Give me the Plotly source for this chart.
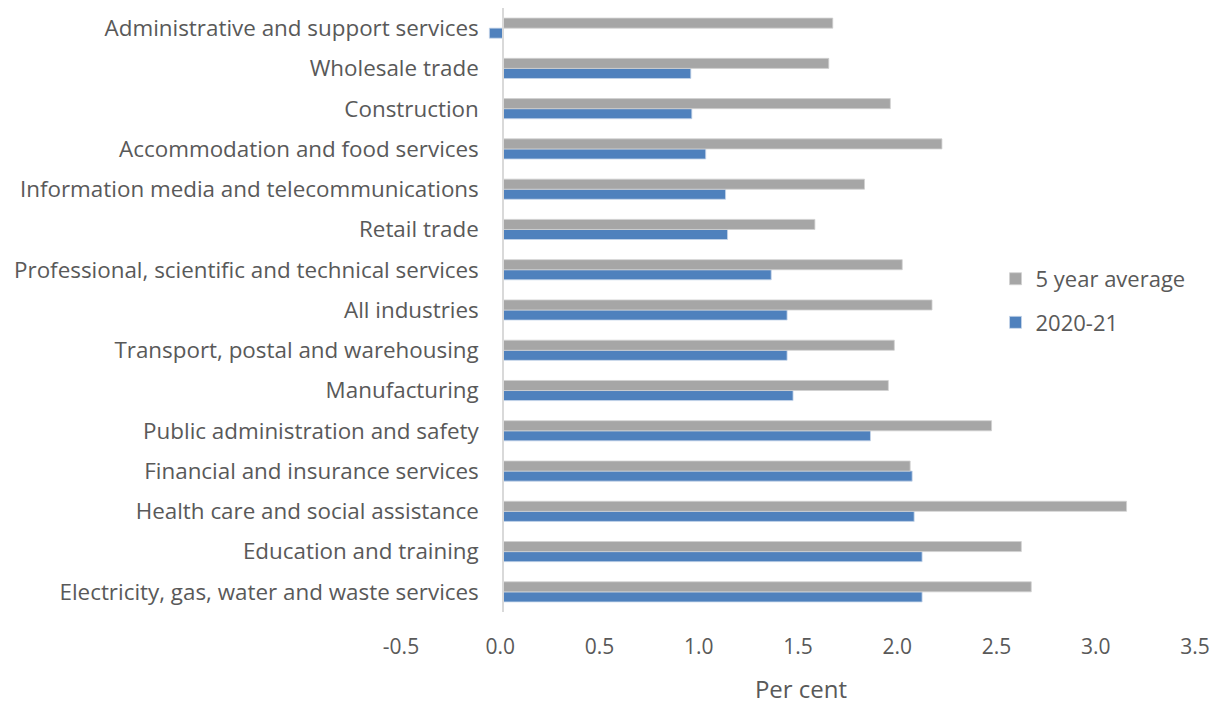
import plotly.graph_objects as go

categories = [
    "Administrative and support services",
    "Wholesale trade",
    "Construction",
    "Accommodation and food services",
    "Information media and telecommunications",
    "Retail trade",
    "Professional, scientific and technical services",
    "All industries",
    "Transport, postal and warehousing",
    "Manufacturing",
    "Public administration and safety",
    "Financial and insurance services",
    "Health care and social assistance",
    "Education and training",
    "Electricity, gas, water and waste services",
]
five_year_avg = [1.66, 1.64, 1.95, 2.21, 1.82, 1.57, 2.01, 2.16, 1.97, 1.94, 2.46, 2.05, 3.14, 2.61, 2.66]
y2020_21 = [-0.07, 0.945, 0.95, 1.02, 1.12, 1.13, 1.35, 1.43, 1.43, 1.46, 1.85, 2.06, 2.07, 2.11, 2.11]
x_ticks = [-0.5, 0.0, 0.5, 1.0, 1.5, 2.0, 2.5, 3.0, 3.5]

cats_rev = categories[::-1]
font_fam = "'Open Sans', 'Noto Sans', sans-serif"
txt = "#595959"

fig = go.Figure()
fig.add_trace(go.Bar(
    y=cats_rev, x=y2020_21[::-1], orientation="h", name="2020-21",
    marker=dict(color="#4f81bd", line=dict(color="#c6d6ea", width=0.8)),
    legendrank=2, legendgroup="g0",
))
fig.add_trace(go.Bar(
    y=cats_rev, x=five_year_avg[::-1], orientation="h", name="5 year average",
    marker=dict(color="#a6a6a6", line=dict(color="#d0d0d0", width=0.8)),
    legendrank=1, legendgroup="g1",
))

fig.update_layout(
    width=1202, height=697,
    margin=dict(l=396, r=12, t=0, b=93, autoexpand=False),
    paper_bgcolor="white", plot_bgcolor="white",
    barmode="group", bargap=0.5, bargroupgap=0.0,
    font=dict(family=font_fam, size=22, color=txt),
    legend=dict(x=0.745, y=0.515, xanchor="left", yanchor="middle",
                font=dict(size=22, color=txt), tracegroupgap=12,
                bgcolor="rgba(0,0,0,0)"),
    xaxis=dict(range=[-0.5, 3.5], tickvals=x_ticks,
               ticktext=[f"{v:.1f}" for v in x_ticks],
               showgrid=False, zeroline=False, showline=False,
               ticks="", ticklabelstandoff=20, ticklabeloverflow="allow",
               ticklabelshift=-3, automargin=False,
               tickfont=dict(size=21, color=txt),
               title=dict(text="Per cent", font=dict(size=24, color=txt), standoff=22)),
    yaxis=dict(categoryorder="array", categoryarray=cats_rev,
               anchor="free", position=0.125, automargin=False,
               showline=True, linecolor="#d9d9d9", linewidth=2,
               showgrid=False, zeroline=False, ticks="",
               ticklabelstandoff=19,
               tickfont=dict(size=22.4, color=txt)),
    showlegend=True,
)

fig.write_html("out.html")
